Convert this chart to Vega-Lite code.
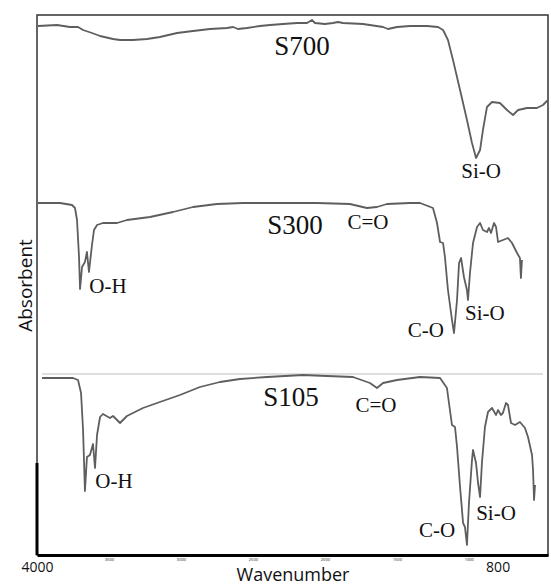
{
  "$schema": "https://vega.github.io/schema/vega-lite/v6.json",
  "width": 511,
  "height": 540,
  "autosize": {"type": "none"},
  "padding": {"left": 37, "top": 15, "right": 3, "bottom": 30},
  "background": "white",
  "config": {"view": {"stroke": "#333", "strokeWidth": 1.5}},
  "datasets": {
    "spectra": [
      {"series": "S700", "x": 3993, "y": 529}, {"series": "S700", "x": 3861, "y": 530}, {"series": "S700", "x": 3771, "y": 528}, {"series": "S700", "x": 3715, "y": 528},
      {"series": "S700", "x": 3680, "y": 525}, {"series": "S700", "x": 3618, "y": 522}, {"series": "S700", "x": 3562, "y": 519}, {"series": "S700", "x": 3472, "y": 516},
      {"series": "S700", "x": 3423, "y": 515}, {"series": "S700", "x": 3333, "y": 515}, {"series": "S700", "x": 3236, "y": 516}, {"series": "S700", "x": 3146, "y": 518},
      {"series": "S700", "x": 3027, "y": 522}, {"series": "S700", "x": 2916, "y": 524}, {"series": "S700", "x": 2798, "y": 526}, {"series": "S700", "x": 2680, "y": 527},
      {"series": "S700", "x": 2638, "y": 528}, {"series": "S700", "x": 2604, "y": 526}, {"series": "S700", "x": 2541, "y": 527}, {"series": "S700", "x": 2451, "y": 529},
      {"series": "S700", "x": 2381, "y": 530}, {"series": "S700", "x": 2291, "y": 531}, {"series": "S700", "x": 2194, "y": 532}, {"series": "S700", "x": 2124, "y": 532},
      {"series": "S700", "x": 2090, "y": 535}, {"series": "S700", "x": 2069, "y": 532}, {"series": "S700", "x": 2000, "y": 531}, {"series": "S700", "x": 1944, "y": 532},
      {"series": "S700", "x": 1909, "y": 533}, {"series": "S700", "x": 1874, "y": 532}, {"series": "S700", "x": 1735, "y": 531}, {"series": "S700", "x": 1596, "y": 528},
      {"series": "S700", "x": 1562, "y": 526}, {"series": "S700", "x": 1499, "y": 528}, {"series": "S700", "x": 1409, "y": 529}, {"series": "S700", "x": 1291, "y": 529},
      {"series": "S700", "x": 1214, "y": 528}, {"series": "S700", "x": 1179, "y": 525}, {"series": "S700", "x": 1145, "y": 515}, {"series": "S700", "x": 1110, "y": 495},
      {"series": "S700", "x": 1061, "y": 465}, {"series": "S700", "x": 1013, "y": 435}, {"series": "S700", "x": 978, "y": 412}, {"series": "S700", "x": 950, "y": 397},
      {"series": "S700", "x": 922, "y": 405}, {"series": "S700", "x": 902, "y": 425}, {"series": "S700", "x": 874, "y": 448}, {"series": "S700", "x": 839, "y": 453},
      {"series": "S700", "x": 784, "y": 452}, {"series": "S700", "x": 735, "y": 445}, {"series": "S700", "x": 693, "y": 440}, {"series": "S700", "x": 658, "y": 445},
      {"series": "S700", "x": 596, "y": 447}, {"series": "S700", "x": 527, "y": 447}, {"series": "S700", "x": 485, "y": 450}, {"series": "S700", "x": 450, "y": 455},

      {"series": "S300", "x": 3993, "y": 352}, {"series": "S300", "x": 3840, "y": 352}, {"series": "S300", "x": 3757, "y": 350}, {"series": "S300", "x": 3736, "y": 347},
      {"series": "S300", "x": 3722, "y": 335}, {"series": "S300", "x": 3708, "y": 298}, {"series": "S300", "x": 3701, "y": 266}, {"series": "S300", "x": 3687, "y": 288},
      {"series": "S300", "x": 3667, "y": 293}, {"series": "S300", "x": 3653, "y": 303}, {"series": "S300", "x": 3639, "y": 283}, {"series": "S300", "x": 3618, "y": 310},
      {"series": "S300", "x": 3604, "y": 325}, {"series": "S300", "x": 3583, "y": 330}, {"series": "S300", "x": 3542, "y": 332}, {"series": "S300", "x": 3493, "y": 332},
      {"series": "S300", "x": 3444, "y": 332}, {"series": "S300", "x": 3375, "y": 335}, {"series": "S300", "x": 3215, "y": 338}, {"series": "S300", "x": 3055, "y": 343},
      {"series": "S300", "x": 2916, "y": 348}, {"series": "S300", "x": 2750, "y": 351}, {"series": "S300", "x": 2569, "y": 352}, {"series": "S300", "x": 2402, "y": 352},
      {"series": "S300", "x": 2242, "y": 352}, {"series": "S300", "x": 2055, "y": 352}, {"series": "S300", "x": 1826, "y": 351}, {"series": "S300", "x": 1708, "y": 347},
      {"series": "S300", "x": 1638, "y": 348}, {"series": "S300", "x": 1569, "y": 351}, {"series": "S300", "x": 1409, "y": 352}, {"series": "S300", "x": 1339, "y": 352},
      {"series": "S300", "x": 1249, "y": 347}, {"series": "S300", "x": 1221, "y": 332}, {"series": "S300", "x": 1200, "y": 313}, {"series": "S300", "x": 1179, "y": 312},
      {"series": "S300", "x": 1166, "y": 298}, {"series": "S300", "x": 1145, "y": 265}, {"series": "S300", "x": 1117, "y": 235}, {"series": "S300", "x": 1103, "y": 222},
      {"series": "S300", "x": 1082, "y": 255}, {"series": "S300", "x": 1068, "y": 292}, {"series": "S300", "x": 1054, "y": 297}, {"series": "S300", "x": 1034, "y": 278},
      {"series": "S300", "x": 1013, "y": 265}, {"series": "S300", "x": 1006, "y": 255}, {"series": "S300", "x": 992, "y": 282}, {"series": "S300", "x": 971, "y": 312},
      {"series": "S300", "x": 943, "y": 328}, {"series": "S300", "x": 922, "y": 332}, {"series": "S300", "x": 902, "y": 325}, {"series": "S300", "x": 874, "y": 323},
      {"series": "S300", "x": 860, "y": 327}, {"series": "S300", "x": 846, "y": 322}, {"series": "S300", "x": 825, "y": 332}, {"series": "S300", "x": 811, "y": 328},
      {"series": "S300", "x": 797, "y": 313}, {"series": "S300", "x": 763, "y": 315}, {"series": "S300", "x": 728, "y": 317}, {"series": "S300", "x": 700, "y": 312},
      {"series": "S300", "x": 665, "y": 302}, {"series": "S300", "x": 645, "y": 297}, {"series": "S300", "x": 638, "y": 277}, {"series": "S300", "x": 631, "y": 295},

      {"series": "S105", "x": 3965, "y": 177}, {"series": "S105", "x": 3750, "y": 177}, {"series": "S105", "x": 3715, "y": 175}, {"series": "S105", "x": 3694, "y": 162},
      {"series": "S105", "x": 3680, "y": 125}, {"series": "S105", "x": 3667, "y": 64}, {"series": "S105", "x": 3653, "y": 98}, {"series": "S105", "x": 3632, "y": 100},
      {"series": "S105", "x": 3611, "y": 111}, {"series": "S105", "x": 3597, "y": 87}, {"series": "S105", "x": 3583, "y": 120}, {"series": "S105", "x": 3562, "y": 138},
      {"series": "S105", "x": 3542, "y": 141}, {"series": "S105", "x": 3493, "y": 137}, {"series": "S105", "x": 3472, "y": 139}, {"series": "S105", "x": 3423, "y": 132},
      {"series": "S105", "x": 3375, "y": 139}, {"series": "S105", "x": 3264, "y": 147}, {"series": "S105", "x": 3146, "y": 153}, {"series": "S105", "x": 3007, "y": 160},
      {"series": "S105", "x": 2868, "y": 168}, {"series": "S105", "x": 2729, "y": 173}, {"series": "S105", "x": 2590, "y": 176}, {"series": "S105", "x": 2402, "y": 178},
      {"series": "S105", "x": 2152, "y": 180}, {"series": "S105", "x": 1985, "y": 179}, {"series": "S105", "x": 1805, "y": 178}, {"series": "S105", "x": 1687, "y": 172},
      {"series": "S105", "x": 1638, "y": 167}, {"series": "S105", "x": 1596, "y": 172}, {"series": "S105", "x": 1499, "y": 175}, {"series": "S105", "x": 1339, "y": 178},
      {"series": "S105", "x": 1200, "y": 177}, {"series": "S105", "x": 1152, "y": 167}, {"series": "S105", "x": 1138, "y": 152}, {"series": "S105", "x": 1117, "y": 130},
      {"series": "S105", "x": 1096, "y": 128}, {"series": "S105", "x": 1082, "y": 108}, {"series": "S105", "x": 1061, "y": 68}, {"series": "S105", "x": 1040, "y": 32},
      {"series": "S105", "x": 1027, "y": 28}, {"series": "S105", "x": 1013, "y": 10}, {"series": "S105", "x": 999, "y": 52}, {"series": "S105", "x": 978, "y": 95},
      {"series": "S105", "x": 971, "y": 105}, {"series": "S105", "x": 950, "y": 92}, {"series": "S105", "x": 936, "y": 72}, {"series": "S105", "x": 922, "y": 58},
      {"series": "S105", "x": 909, "y": 92}, {"series": "S105", "x": 888, "y": 128}, {"series": "S105", "x": 867, "y": 143}, {"series": "S105", "x": 839, "y": 147},
      {"series": "S105", "x": 811, "y": 140}, {"series": "S105", "x": 797, "y": 145}, {"series": "S105", "x": 777, "y": 140}, {"series": "S105", "x": 763, "y": 142},
      {"series": "S105", "x": 742, "y": 152}, {"series": "S105", "x": 728, "y": 150}, {"series": "S105", "x": 707, "y": 132}, {"series": "S105", "x": 679, "y": 130},
      {"series": "S105", "x": 645, "y": 133}, {"series": "S105", "x": 610, "y": 127}, {"series": "S105", "x": 589, "y": 118}, {"series": "S105", "x": 561, "y": 100},
      {"series": "S105", "x": 554, "y": 85}, {"series": "S105", "x": 547, "y": 55}, {"series": "S105", "x": 540, "y": 70}
    ],
    "samples": [
      {"label": "S700", "x": 2159, "y": 508},
      {"label": "S300", "x": 2208, "y": 329},
      {"label": "S105", "x": 2235, "y": 157}
    ],
    "bands": [
      {"label": "Si-O", "x": 915, "y": 383},
      {"label": "C=O", "x": 1701, "y": 332},
      {"label": "O-H", "x": 3507, "y": 268},
      {"label": "C-O", "x": 1298, "y": 224},
      {"label": "Si-O", "x": 888, "y": 241},
      {"label": "C=O", "x": 1645, "y": 149},
      {"label": "O-H", "x": 3465, "y": 73},
      {"label": "C-O", "x": 1221, "y": 24},
      {"label": "Si-O", "x": 811, "y": 41}
    ],
    "faintbox": [{"x": 3965, "x2": 485, "y": 181}],
    "leftedge": [{"x": 4000, "y": 0, "y2": 92}]
  },
  "encoding": {
    "x": {
      "field": "x", "type": "quantitative",
      "scale": {"domain": [450, 4000], "reverse": true, "nice": false, "zero": false},
      "axis": {
        "title": "Wavenumber", "titleFont": "Open Sans", "titleFontSize": 18, "titleFontWeight": "normal", "titleColor": "#111", "titlePadding": -8,
        "values": [4000, 3500, 3000, 2500, 2000, 1500, 1000, 800], "format": "d",
        "labelFont": "Open Sans", "labelColor": "#111",
        "labelFontSize": {"condition": {"test": "datum.value == 4000 || datum.value == 800", "value": 14}, "value": 4},
        "labelPadding": {"condition": {"test": "datum.value == 4000 || datum.value == 800", "value": 5}, "value": 2},
        "labelFlush": false, "labelOverlap": false, "labelBound": false,
        "ticks": false, "grid": false, "domainColor": "#000", "domainWidth": 3
      }
    },
    "y": {
      "field": "y", "type": "quantitative",
      "scale": {"domain": [0, 540], "nice": false, "zero": false},
      "axis": {"title": "Absorbent", "titleFont": "Open Sans", "titleFontSize": 19, "titleFontWeight": "normal", "titleColor": "#111", "titlePadding": 2, "labels": false, "ticks": false, "domain": false, "grid": false}
    }
  },
  "layer": [
    {
      "data": {"name": "faintbox"},
      "mark": {"type": "rule", "color": "#dedede", "strokeWidth": 2},
      "encoding": {"x2": {"field": "x2"}}
    },
    {
      "data": {"name": "leftedge"},
      "mark": {"type": "rule", "color": "#000", "strokeWidth": 3},
      "encoding": {"y2": {"field": "y2"}}
    },
    {
      "data": {"name": "spectra"},
      "mark": {"type": "line", "color": "#5e5e5e", "strokeWidth": 1.8, "strokeJoin": "round"},
      "encoding": {"detail": {"field": "series"}}
    },
    {
      "data": {"name": "samples"},
      "mark": {"type": "text", "font": "Liberation Serif", "fontSize": 27, "color": "#111", "baseline": "middle", "align": "center"},
      "encoding": {"text": {"field": "label"}}
    },
    {
      "data": {"name": "bands"},
      "mark": {"type": "text", "font": "Liberation Serif", "fontSize": 21, "color": "#111", "baseline": "middle", "align": "center"},
      "encoding": {"text": {"field": "label"}}
    }
  ]
}
